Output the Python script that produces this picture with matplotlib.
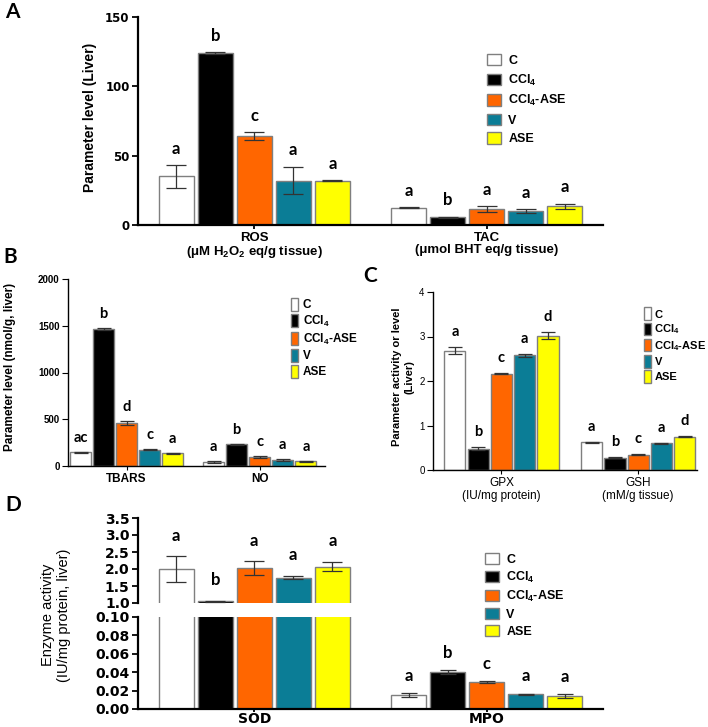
import numpy as np
import matplotlib
matplotlib.use('Agg')
import matplotlib.pyplot as plt
from matplotlib.patches import Patch

plt.rcParams['font.family'] = ['Liberation Sans', 'DejaVu Sans']
plt.rcParams['mathtext.fontset'] = 'custom'
plt.rcParams['mathtext.rm'] = 'Liberation Sans:bold'
plt.rcParams['mathtext.it'] = 'Liberation Sans:bold:italic'
plt.rcParams['mathtext.bf'] = 'Liberation Sans:bold'

# groups and colours
groups = ['C', 'CCl$_4$', 'CCl$_4$-ASE', 'V', 'ASE']
colors = ['#ffffff', '#000000', '#ff6600', '#0b7d96', '#ffff00']

# panel A: ROS, TAC
a_labels = ['ROS\n(μM H$_2$O$_2$ eq/g tissue)', 'TAC\n(μmol BHT eq/g tissue)']
ros_mean = [35, 124, 64, 32, 32]
ros_err = [8, 0.5, 3, 10, 0.4]
ros_sig = ['a', 'b', 'c', 'a', 'a']
tac_mean = [12.5, 5.5, 11.5, 10, 13.5]
tac_err = [0.3, 0.5, 2, 1.3, 1.8]
tac_sig = ['a', 'b', 'a', 'a', 'a']

# panel B: TBARS, NO
b_labels = ['TBARS', 'NO']
tbars_mean = [145, 1465, 460, 175, 135]
tbars_err = [5, 8, 25, 5, 3]
tbars_sig = ['ac', 'b', 'd', 'c', 'a']
no_mean = [45, 230, 95, 65, 50]
no_err = [10, 10, 10, 8, 4]
no_sig = ['a', 'b', 'c', 'a', 'a']

# panel C: GPX, GSH
c_labels = ['GPX\n(IU/mg protein)', 'GSH\n(mM/g tissue)']
gpx_mean = [2.68, 0.48, 2.16, 2.58, 3.02]
gpx_err = [0.08, 0.03, 0.01, 0.03, 0.07]
gpx_sig = ['a', 'b', 'c', 'a', 'd']
gsh_mean = [0.62, 0.28, 0.34, 0.60, 0.75]
gsh_err = [0.01, 0.01, 0.01, 0.01, 0.01]
gsh_sig = ['a', 'b', 'c', 'a', 'd']

# panel D: SOD, MPO (broken axis)
d_labels = ['SOD', 'MPO']
sod_mean = [2.0, 1.05, 2.03, 1.75, 2.07]
sod_err = [0.37, 0.01, 0.2, 0.05, 0.14]
sod_sig = ['a', 'b', 'a', 'a', 'a']
mpo_mean = [0.015, 0.040, 0.029, 0.016, 0.014]
mpo_err = [0.002, 0.002, 0.001, 0.0005, 0.002]
mpo_sig = ['a', 'b', 'c', 'a', 'a']

W, H = 708, 727
fig = plt.figure(figsize=(W / 100, H / 100), dpi=100)
WIDE = ['DejaVu Sans']


def px_axes(l, t, r, b):
    return fig.add_axes([l / W, 1 - b / H, (r - l) / W, (b - t) / H])


def draw_group(ax, g, means, errs, sigs, width, pitch, cap, lsize, off, letters=True):
    xs = g + (np.arange(len(means)) - 2) * pitch
    ax.bar(xs, means, width, color=colors, edgecolor='#7f7f7f', linewidth=1, zorder=2)
    ax.errorbar(xs, means, yerr=errs, fmt='none', ecolor='#333333', elinewidth=0.9,
                capsize=cap, capthick=0.9, zorder=3)
    if letters:
        for x, m, e, s in zip(xs, means, errs, sigs):
            ax.annotate(s, (x, m + e), xytext=(0, off), textcoords='offset points',
                        ha='center', va='bottom', fontsize=lsize, fontweight='bold',
                        family=['Lato', 'DejaVu Sans'], annotation_clip=False)


def style(ax, lw, tsize, tweight, family=None):
    for s in ['top', 'right']:
        ax.spines[s].set_visible(False)
    ax.spines['left'].set_linewidth(lw)
    ax.spines['bottom'].set_linewidth(lw)
    ax.tick_params(axis='y', direction='out', length=4, width=lw * 0.8, labelsize=tsize, pad=2)
    ax.tick_params(axis='x', direction='out', length=3, width=lw * 0.8, pad=2)
    for t in ax.get_yticklabels():
        t.set_fontweight(tweight)
        if family:
            t.set_family(family)


handles = [Patch(facecolor=c, edgecolor='#7f7f7f', linewidth=1) for c in colors]

# ---- A ----
axA = px_axes(138, 17, 603, 225)
draw_group(axA, 0, ros_mean, ros_err, ros_sig, 0.151, 0.168, 7.5, 12, 6)
draw_group(axA, 1, tac_mean, tac_err, tac_sig, 0.151, 0.168, 7.5, 12, 6)
axA.set_xlim(-0.5, 1.5)
axA.set_ylim(0, 150)
axA.set_yticks([0, 50, 100, 150])
axA.set_xticks([0, 1])
axA.set_xticklabels(a_labels, fontsize=9.5, fontweight='bold', linespacing=1.05)
style(axA, 1.6, 8.5, 'bold', WIDE)
fig.text(90 / W, 1 - 117 / H, 'Parameter level (Liver)', rotation=90, ha='center', va='center',
         fontsize=10, fontweight='bold')
fig.legend(handles, groups, loc='upper left', bbox_to_anchor=(482 / W, 1 - 49 / H), frameon=False,
           prop={'size': 9, 'weight': 'bold'}, handlelength=1.1, handleheight=1.0,
           handletextpad=0.6, labelspacing=0.45, borderaxespad=0)

# ---- B ----
axB = px_axes(68, 279, 325, 466)
draw_group(axB, 0, tbars_mean, tbars_err, tbars_sig, 0.158, 0.173, 5, 10.5, 5)
draw_group(axB, 1, no_mean, no_err, no_sig, 0.158, 0.173, 5, 10.5, 5)
axB.set_xlim(-0.44, 1.49)
axB.set_ylim(0, 2000)
axB.set_yticks([0, 500, 1000, 1500, 2000])
axB.set_xticks([0, 1])
axB.set_xticklabels(b_labels, fontsize=8.5, fontweight='bold')
style(axB, 1.0, 7, 'bold')
fig.text(10 / W, 1 - 367 / H, 'Parameter level (nmol/g, liver)', rotation=90, ha='center', va='center',
         fontsize=8.5, fontweight='bold')
fig.legend(handles, groups, loc='upper left', bbox_to_anchor=(286 / W, 1 - 293 / H), frameon=False,
           prop={'size': 8.5, 'weight': 'bold'}, handlelength=0.6, handleheight=1.3,
           handletextpad=0.4, labelspacing=0.22, borderaxespad=0)

# ---- C ----
axC = px_axes(433, 292, 697, 470)
draw_group(axC, 0, gpx_mean, gpx_err, gpx_sig, 0.155, 0.17, 5, 10.5, 6)
draw_group(axC, 1, gsh_mean, gsh_err, gsh_sig, 0.155, 0.17, 5, 10.5, 6)
axC.set_xlim(-0.5, 1.43)
axC.set_ylim(0, 4)
axC.set_yticks([0, 1, 2, 3, 4])
axC.set_xticks([0, 1])
axC.set_xticklabels(c_labels, fontsize=8.5, linespacing=1.15)
style(axC, 1.0, 7, 'normal')
fig.text(403 / W, 1 - 377 / H, 'Parameter activity or level\n(Liver)', rotation=90, ha='center',
         va='center', fontsize=8, fontweight='bold', linespacing=1.3)
fig.legend(handles, groups, loc='upper left', bbox_to_anchor=(640 / W, 1 - 303 / H), frameon=False,
           prop={'size': 8, 'weight': 'bold'}, handlelength=0.55, handleheight=1.4,
           handletextpad=0.35, labelspacing=0.2, borderaxespad=0)

# ---- D (broken y axis) ----
axDt = px_axes(138, 518, 603, 603)
axDb = px_axes(138, 617, 603, 709)
draw_group(axDt, 0, sod_mean, sod_err, sod_sig, 0.151, 0.168, 7.5, 12, 9)
draw_group(axDt, 1, mpo_mean, mpo_err, mpo_sig, 0.151, 0.168, 7.5, 12, 9, letters=False)
draw_group(axDb, 0, sod_mean, sod_err, sod_sig, 0.151, 0.168, 6, 12, 7, letters=False)
draw_group(axDb, 1, mpo_mean, mpo_err, mpo_sig, 0.151, 0.168, 6, 12, 7)
for ax in (axDt, axDb):
    ax.set_xlim(-0.5, 1.5)
axDt.set_ylim(1.0, 3.5)
axDt.set_yticks(np.arange(1.0, 3.51, 0.5))
axDt.yaxis.set_major_formatter('{x:.1f}')
axDb.set_ylim(0, 0.10)
axDb.set_yticks(np.arange(0, 0.101, 0.02))
axDb.yaxis.set_major_formatter('{x:.2f}')
style(axDt, 1.6, 10, 'bold', WIDE)
style(axDb, 1.6, 10, 'bold', WIDE)
axDt.spines['bottom'].set_visible(False)
axDt.set_xticks([])
axDb.set_xticks([0, 1])
axDb.set_xticklabels(d_labels, fontsize=10, fontweight='bold', family=WIDE)
axDb.tick_params(axis='x', length=2, pad=0.5)
fig.text(56 / W, 1 - 615 / H, 'Enzyme activity\n(IU/mg protein, liver)', rotation=90, ha='center',
         va='center', fontsize=10.5, linespacing=1.25)
fig.legend(handles, groups, loc='upper left', bbox_to_anchor=(480 / W, 1 - 548 / H), frameon=False,
           prop={'size': 9, 'weight': 'bold'}, handlelength=1.1, handleheight=1.0,
           handletextpad=0.6, labelspacing=0.32, borderaxespad=0)

# panel letters
for lab, x, y in [('A', 12, 12), ('B', 10, 257), ('C', 370, 276), ('D', 13, 505)]:
    fig.text(x / W, 1 - y / H, lab, ha='center', va='center', fontsize=15, fontweight='bold',
             family=['Lato', 'DejaVu Sans'])

fig.savefig('out.png', dpi=100)
